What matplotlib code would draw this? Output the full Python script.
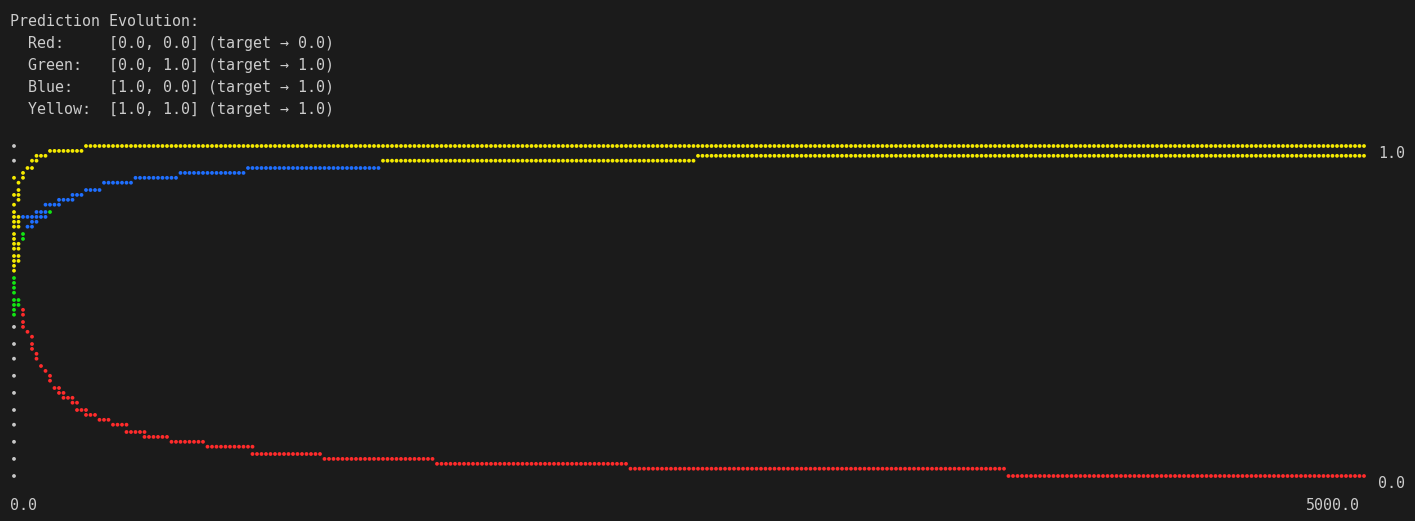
import numpy as np
import matplotlib
matplotlib.use("Agg")
import matplotlib.pyplot as plt

# prediction history: vertices (epoch, prediction)
red_epoch = [0, 17, 17, 33, 33, 50, 67, 67, 83, 83, 100, 117, 133, 133, 150, 167,
             167, 183, 183, 217, 217, 233, 233, 267, 267, 300, 317, 350, 367, 417,
             417, 483, 483, 567, 583, 700, 717, 883, 883, 1133, 1150, 1550, 1567,
             2267, 2283, 3667, 3683, 5000]
red_value = [0.55, 0.533, 0.517, 0.5, 0.45, 0.433, 0.417, 0.383, 0.367, 0.35, 0.333,
             0.317, 0.3, 0.283, 0.267, 0.267, 0.25, 0.25, 0.233, 0.233, 0.217, 0.217,
             0.2, 0.2, 0.183, 0.183, 0.167, 0.167, 0.15, 0.15, 0.133, 0.133, 0.117,
             0.117, 0.1, 0.1, 0.083, 0.083, 0.067, 0.067, 0.05, 0.05, 0.033, 0.033,
             0.017, 0.017, 0.0, 0.0]

green_epoch = [0, 0, 17, 17, 33, 33, 50, 67, 67, 83, 83, 117, 133, 150, 167, 167, 217,
               217, 250, 267, 317, 333, 433, 450, 600, 617, 850, 867, 1350, 1367, 2517,
               2533, 5000]
green_value = [0.483, 0.633, 0.65, 0.7, 0.717, 0.733, 0.75, 0.75, 0.767, 0.767, 0.783,
               0.783, 0.8, 0.817, 0.817, 0.833, 0.833, 0.85, 0.85, 0.867, 0.867, 0.883,
               0.883, 0.9, 0.9, 0.917, 0.917, 0.933, 0.933, 0.95, 0.95, 0.967, 0.967]

blue_epoch = [0, 17, 17, 33, 67, 83, 117, 117, 167, 167, 217, 217, 250, 267, 317, 333,
              433, 450, 600, 617, 850, 867, 1350, 1367, 2517, 2533, 5000]
blue_value = [0.733, 0.75, 0.783, 0.783, 0.783, 0.8, 0.8, 0.817, 0.817, 0.833, 0.833,
              0.85, 0.85, 0.867, 0.867, 0.883, 0.883, 0.9, 0.9, 0.917, 0.917, 0.933,
              0.933, 0.95, 0.95, 0.967, 0.967]

yellow_epoch = [0, 0, 17, 17, 33, 33, 50, 67, 67, 83, 83, 117, 133, 250, 267, 5000]
yellow_value = [0.617, 0.817, 0.833, 0.883, 0.9, 0.917, 0.933, 0.933, 0.95, 0.95, 0.967,
                0.967, 0.983, 0.983, 1.0, 1.0]

names = ["Red", "Green", "Blue", "Yellow"]
inputs = ["[0.0, 0.0]", "[0.0, 1.0]", "[1.0, 0.0]", "[1.0, 1.0]"]
targets = [0.0, 1.0, 1.0, 1.0]
x_max = 5000.0

bg = "#1b1b1b"
fg = "#cccccc"
colors = {"axis": "#c8c8c8", "Red": "#ff2b2b", "Green": "#12e612",
          "Blue": "#1f6fff", "Yellow": "#f5ea00"}

# braille canvas: 2x4 dots per character, one colour per character
NCOL, NROW = 300, 60


def trace(epochs, values):
    cols = np.round(np.asarray(epochs) * NCOL / x_max).astype(int)
    rows = np.round((1 - np.asarray(values)) * NROW).astype(int)
    pts = [(cols[0], rows[0])]
    for c0, r0, c1, r1 in zip(cols[:-1], rows[:-1], cols[1:], rows[1:]):
        n = max(abs(c1 - c0), abs(r1 - r0))
        for i in range(1, n + 1):
            pts.append((int(np.round(c0 + (c1 - c0) * i / n)),
                        int(np.round(r0 + (r1 - r0) * i / n))))
    return pts


dots = set()
cell_color = {}
layers = [("axis", trace([0, 0], [1.0, 0.0])[::3])]
layers += [(n, trace(e, v)) for n, e, v in zip(
    names, [red_epoch, green_epoch, blue_epoch, yellow_epoch],
    [red_value, green_value, blue_value, yellow_value])]
for key, pts in layers:
    for c, r in pts:
        dots.add((c, r))
        cell_color[(c // 2, r // 4)] = colors[key]

dots = sorted(dots)
dx = np.array([c for c, r in dots]) * x_max / NCOL
dy = 1 - np.array([r for c, r in dots]) / NROW
dc = [cell_color[(c // 2, r // 4)] for c, r in dots]

# braille glyph rows are not evenly spaced: 4 dots then a gap to the next line
kr = np.arange(-8, 69)
kp = 22.0 * (kr // 4) + 4.9 * (kr % 4)


def fwd(v):
    return -np.interp((1 - np.asarray(v)) * NROW, kr, kp)


def inv(y):
    return 1 - np.interp(-np.asarray(y), kp, kr) / NROW


W, H = 1415, 521
fig = plt.figure(figsize=(W / 100, H / 100), dpi=100, facecolor=bg)
ax = fig.add_axes([14 / W, 45 / H, 1350 / W, 330 / H])
ax.set_facecolor(bg)
ax.set_yscale("function", functions=(fwd, inv))
ax.set_xlim(0, x_max)
ax.set_ylim(0, 1)
ax.set_axis_off()
ax.scatter(dx, dy, s=7.5, c=dc, marker="o", linewidths=0, clip_on=False)

mono = dict(family="DejaVu Sans Mono", size=10.8, color=fg, va="baseline")
lines = ["Prediction Evolution:"]
for n, inp, t in zip(names, inputs, targets):
    lines.append(f"  {n + ':':<9}{inp} (target \u2192 {t:.1f})")
for i, s in enumerate(lines):
    fig.text(10 / W, 1 - (26 + 22 * i) / H, s, **mono)

fig.text(1378 / W, 1 - 158 / H, "1.0", **mono)
fig.text(1378 / W, 1 - 488 / H, "0.0", **mono)
fig.text(10 / W, 1 - 510 / H, "0.0", **mono)
fig.text(1306 / W, 1 - 510 / H, f"{x_max:.1f}", **mono)

fig.savefig("out.png", dpi=100, facecolor=bg)
